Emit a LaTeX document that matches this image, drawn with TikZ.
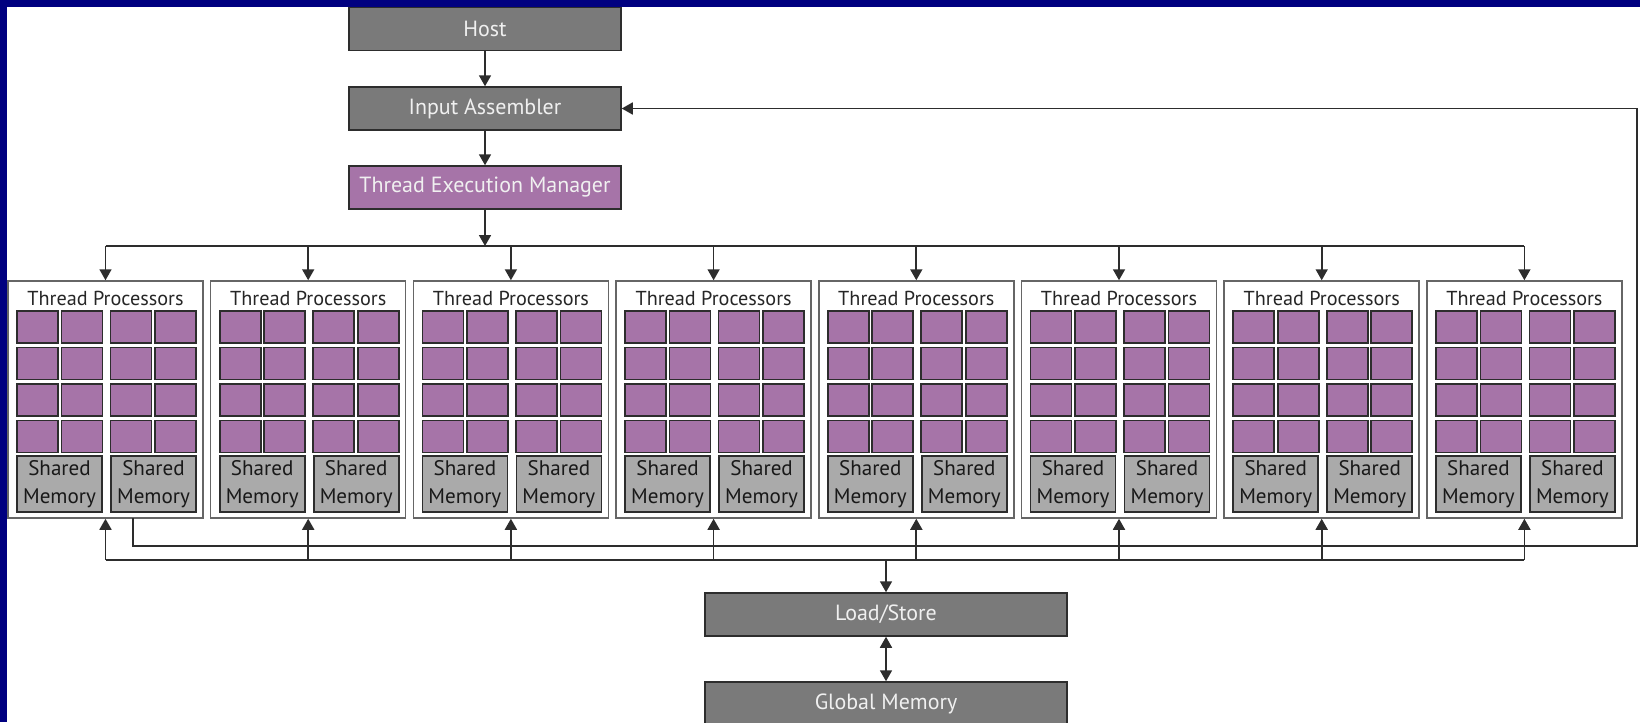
\documentclass[tikz,border=0pt]{standalone}
\usepackage{fontspec}
\setmainfont{PT Sans}
\usepackage{xcolor}
\usetikzlibrary{positioning, arrows.meta}

\definecolor{slide}{RGB}{0,0,128}
\definecolor{boxgray}{RGB}{122,122,122}
\definecolor{memgray}{RGB}{170,170,170}
\definecolor{tpurple}{RGB}{166,116,168}
\definecolor{edge}{RGB}{45,45,45}

\tikzset{
  wire/.style={draw=edge, line width=0.35mm},
  tip/.tip={Triangle[width=2.4mm, length=2.2mm]},
  unit/.style={draw=edge, line width=0.3mm, fill=boxgray, text=white!94!black,
    minimum width=54.4mm, minimum height=8.6mm, inner sep=0pt,
    font=\fontsize{12.5}{14}\selectfont},
  wideunit/.style={unit, minimum width=72.4mm},
  cluster/.style={draw=gray!80!black, line width=0.3mm, fill=white,
    minimum width=39mm, minimum height=47.4mm, inner sep=0pt},
  tptitle/.style={font=\fontsize{11.5}{13}\selectfont, text=black!85, inner sep=0pt},
  cell/.style={draw=edge, line width=0.35mm, fill=tpurple,
    minimum width=8.2mm, minimum height=6.4mm, inner sep=0pt},
  shmem/.style={draw=edge, line width=0.35mm, fill=memgray, text=black!90,
    minimum width=17mm, minimum height=11.2mm, inner sep=0pt, align=center,
    font=\fontsize{12}{16}\selectfont}
}

\begin{document}
\begin{tikzpicture}[x=0.2mm, y=-0.2mm]
    \useasboundingbox (0,0) rectangle (1640,722);
    \fill[slide] (0,0) rectangle (1640,722);
    \fill[white] (7,7) rectangle (1640,722);

    % control path
    \node[unit] (host) at (485,29) {Host};
    \node[unit] (ia) at (485,108.5) {Input Assembler};
    \node[unit, fill=tpurple] (tem) at (485,187.5) {Thread Execution Manager};

    % memory path
    \node[wideunit] (ls) at (886,614.5) {Load/Store};
    \node[wideunit] (gm) at (886,703.5) {Global Memory};

    % the eight thread processor clusters
    \foreach \i in {1,...,8} {
        \pgfmathsetmacro\cx{8+202.7*(\i-1)}
        \node[cluster] (tp\i) at (\cx+97.5,399.5) {};
        \node[tptitle] (tt\i) at (\cx+97.5,298) {Thread Processors};
        \foreach \r in {0,...,3}
            \foreach \c/\dx in {1/29.5, 2/74, 3/123, 4/167.5}
                \node[cell] (p\i-\r-\c) at (\cx+\dx,327+36.5*\r) {};
        \node[shmem] (sma\i) at (\cx+51.5,484) {Shared\\Memory};
        \node[shmem] (smb\i) at (\cx+145.5,484) {Shared\\Memory};
    }

    \coordinate (split) at (485,246);
    \coordinate (bus) at (886,560);
    \coordinate (ret) at (133,518);
    \coordinate (fb) at (1637,546);

    \draw[wire, -tip] (host) -- (ia);
    \draw[wire, -tip] (ia) -- (tem);
    \draw[wire, -tip] (tem) -- (split);
    \draw[wire] (tp1.north |- split) -- (tp8.north |- split);

    % feedback to the input assembler
    \draw[wire, -tip] (ret) |- (fb) |- (ia.east);

    \draw[wire] (tp1.south |- bus) -- (tp8.south |- bus);
    \foreach \i in {1,...,8} {
        \draw[wire, -tip] (tp\i.north |- split) -- (tp\i.north);
        \draw[wire, -tip] (tp\i.south |- bus) -- (tp\i.south);
    }
    \draw[wire, -tip] (bus) -- (ls);
    \draw[wire, tip-tip] (ls) -- (gm);
\end{tikzpicture}
\end{document}
